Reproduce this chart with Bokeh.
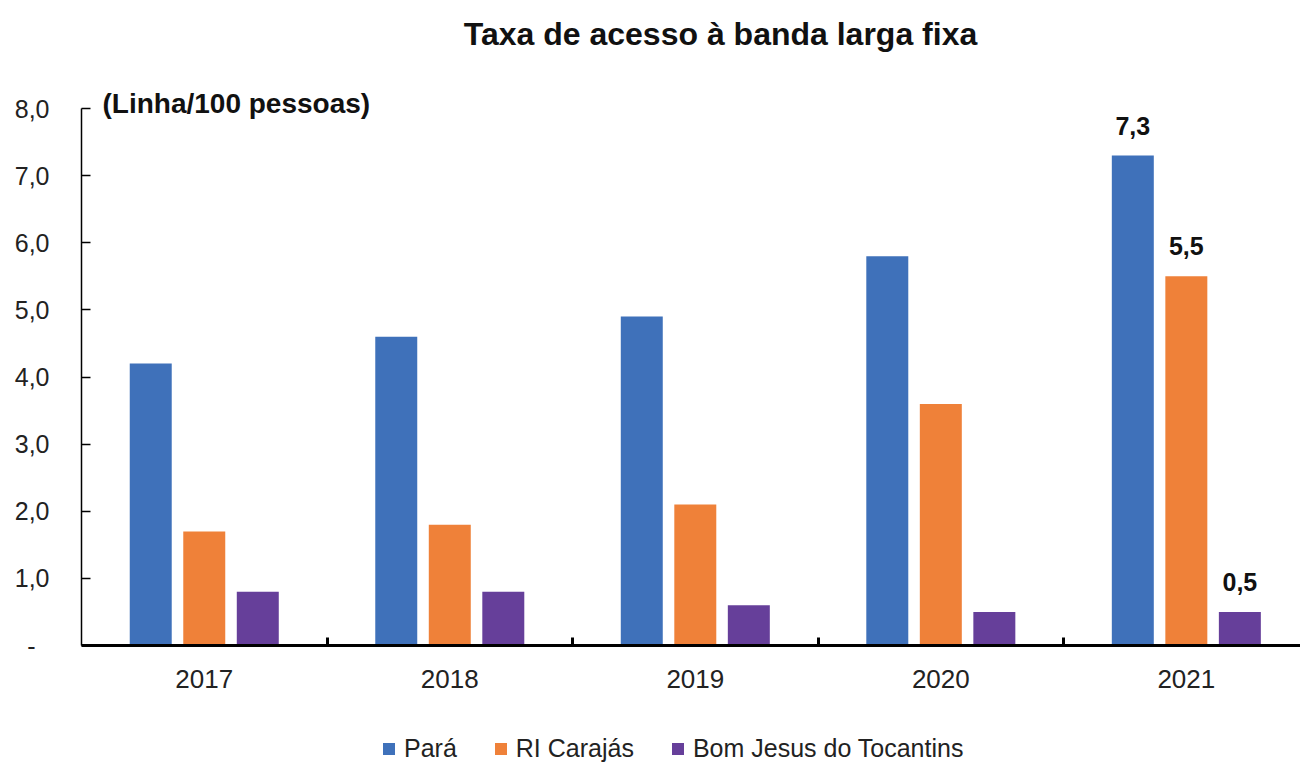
from bokeh.plotting import figure
from bokeh.layouts import column
from bokeh.models import (ColumnDataSource, Range1d, FixedTicker, Legend, LegendItem, Label)
from bokeh.core.properties import value
from bokeh.embed import file_html
from bokeh.resources import INLINE

years = ["2017", "2018", "2019", "2020", "2021"]
para = [4.2, 4.6, 4.9, 5.8, 7.3]
ri_carajas = [1.7, 1.8, 2.1, 3.6, 5.5]
bom_jesus = [0.8, 0.8, 0.6, 0.5, 0.5]
series_names = ["Pará", "RI Carajás", "Bom Jesus do Tocantins"]
colors = ["#3F71BA", "#EF8139", "#663F9A"]
y_ticks = [0, 1, 2, 3, 4, 5, 6, 7, 8]
title_text = "Taxa de acesso à banda larga fixa"
unit_text = "(Linha/100 pessoas)"

FONT = "Liberation Sans"

def fmt(v):
    return f"{v:.1f}".replace(".", ",")

W = 1300
p = figure(width=W, height=722, output_backend="svg", toolbar_location=None,
           x_range=Range1d(0, 4.965), y_range=Range1d(0, 9.61),
           min_border_left=81, min_border_top=0, min_border_bottom=77, min_border_right=0)
p.outline_line_color = None
p.xgrid.visible = False
p.ygrid.visible = False
p.background_fill_color = "white"
p.border_fill_color = "white"

centers = [i + 0.5 for i in range(len(years))]
offsets = [-0.218, 0.0, 0.218]
bar_w = 0.171
all_series = [para, ri_carajas, bom_jesus]
for vals, off, col in zip(all_series, offsets, colors):
    src = ColumnDataSource(dict(x=[c + off for c in centers], top=vals))
    p.vbar(x="x", top="top", width=bar_w, source=src, fill_color=col, line_color=None)

# data labels for last year only
last = len(years) - 1
lab_src = ColumnDataSource(dict(
    x=[centers[last] + off for off in offsets],
    y=[s[last] for s in all_series],
    t=[fmt(s[last]) for s in all_series]))
p.text(x="x", y="y", text="t", source=lab_src, y_offset=-30, text_align="center",
       text_baseline="middle", text_font=value(FONT), text_font_style="bold",
       text_font_size="25px", text_color="#111111")

# x axis
xa = p.xaxis[0]
xa.ticker = FixedTicker(ticks=centers, minor_ticks=[1, 2, 3, 4])
xa.major_label_overrides = {c: y for c, y in zip(centers, years)}
xa.major_tick_in = 0
xa.major_tick_out = 0
xa.minor_tick_in = 8
xa.minor_tick_out = 0
xa.minor_tick_line_width = 3
xa.minor_tick_line_color = "black"
xa.axis_line_width = 3
xa.axis_line_color = "black"
xa.major_label_standoff = 24
xa.major_label_text_font = FONT
xa.major_label_text_font_size = "26px"
xa.major_label_text_color = "#222222"

# y axis
ya = p.yaxis[0]
ya.ticker = FixedTicker(ticks=y_ticks)
ya.bounds = (0, 8)
ya.major_label_overrides = {t: ("-\u00a0\u00a0" if t == 0 else fmt(t)) for t in y_ticks}
ya.major_tick_in = 9
ya.major_tick_out = 0
ya.major_tick_line_width = 1.5
ya.axis_line_width = 1.5
ya.minor_tick_line_color = None
ya.major_label_standoff = 32
ya.major_label_text_font = FONT
ya.major_label_text_font_size = "25px"
ya.major_label_text_color = "#222222"

# title and unit labels (screen units relative to the plot frame, y upward)
p.add_layout(Label(x=639, y=612, x_units="screen", y_units="screen", text=title_text,
                   text_align="center", text_baseline="alphabetic", text_font=FONT,
                   text_font_style="bold", text_font_size="32px", text_color="#111111"))
p.add_layout(Label(x=21, y=542, x_units="screen", y_units="screen", text=unit_text,
                   text_align="left", text_baseline="middle", text_font=FONT,
                   text_font_style="bold", text_font_size="28px", text_color="#111111"))

# legend figure
pl = figure(width=W, height=44, output_backend="svg", toolbar_location=None,
            x_range=Range1d(0, 1), y_range=Range1d(0, 1), x_axis_type=None, y_axis_type=None,
            min_border=0)
pl.outline_line_color = None
pl.background_fill_color = "white"
pl.border_fill_color = "white"
leg_renderers = []
for col in colors:
    leg_renderers.append(pl.vbar(x=[50], top=[60], bottom=[50], width=0.1,
                                 fill_color=col, line_color=None))
legend = Legend(items=[LegendItem(label=n, renderers=[r]) for n, r in zip(series_names, leg_renderers)],
                orientation="horizontal", location=(300, 3))
legend.label_text_font = FONT
legend.label_text_font_size = "25px"
legend.label_text_color = "#222222"
legend.label_height = 28
legend.glyph_width = 15
legend.glyph_height = 15
legend.label_standoff = 8
legend.spacing = 36
legend.padding = 0
legend.margin = 0
legend.border_line_color = None
legend.background_fill_alpha = 0
pl.add_layout(legend, "center")

layout = column(p, pl, spacing=0)
open("out.html", "w").write(file_html(layout, INLINE))
